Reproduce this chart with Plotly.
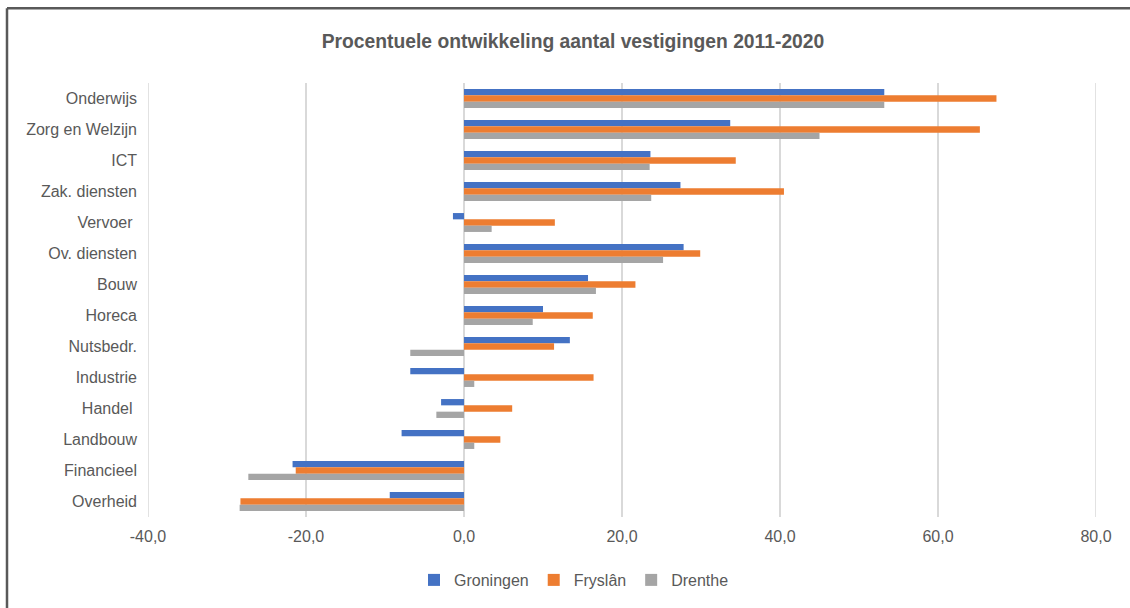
import plotly.graph_objects as go

categories = ["Onderwijs", "Zorg en Welzijn", "ICT", "Zak. diensten", "Vervoer\u00a0",
              "Ov. diensten", "Bouw", "Horeca", "Nutsbedr.", "Industrie", "Handel\u00a0",
              "Landbouw", "Financieel", "Overheid"]
groningen = [53.2, 33.7, 23.6, 27.4, -1.4, 27.8, 15.7, 10.0, 13.4, -6.8, -2.9, -7.9, -21.7, -9.4]
fryslan   = [67.4, 65.3, 34.4, 40.5, 11.5, 29.9, 21.7, 16.3, 11.4, 16.4, 6.1, 4.6, -21.3, -28.3]
drenthe   = [53.2, 45.0, 23.5, 23.7, 3.5, 25.2, 16.7, 8.7, -6.8, 1.3, -3.5, 1.3, -27.3, -28.4]
series_names = ["Groningen", "Fryslân", "Drenthe"]
series_colors = ["#4472C4", "#ED7D31", "#A5A5A5"]
tick_vals = [-40, -20, 0, 20, 40, 60, 80]
tick_text = [f"{v:.1f}".replace(".", ",") for v in tick_vals]
title_text = "Procentuele ontwikkeling aantal vestigingen 2011-2020"

FONT = "Liberation Sans, Arial, sans-serif"
TXT = "#595959"
GRID = "#D9D9D9"

fig = go.Figure()
for name, vals, col in zip(series_names, [groningen, fryslan, drenthe], series_colors):
    fig.add_trace(go.Bar(y=categories, x=vals, name=name, orientation="h",
                         marker=dict(color=col, line=dict(width=0))))

W, H = 1130, 608
L, R, T, B = 148, 34, 83, 90
pw, ph = W - L - R, H - T - B

def px(x):
    return (x - L) / pw

def py(y):
    return (H - B - y) / ph

fig.update_layout(
    width=W, height=H,
    margin=dict(l=L, r=R, t=T, b=B),
    paper_bgcolor="white", plot_bgcolor="white",
    barmode="group", bargap=0.39, bargroupgap=0,
    font=dict(family=FONT, color=TXT, size=16),
    title=dict(text="<b>" + title_text + "</b>", x=573 / W, xref="container",
               xanchor="center", y=1 - 41 / H, yref="container", yanchor="middle",
               font=dict(size=19.3, color=TXT, family=FONT)),
    legend=dict(orientation="h", x=px(574), xanchor="center", y=py(580), yanchor="middle",
                font=dict(size=16, color=TXT), itemwidth=30, traceorder="normal",
                bgcolor="rgba(0,0,0,0)"),
    xaxis=dict(range=[tick_vals[0], tick_vals[-1]], tickvals=tick_vals, ticktext=tick_text,
               showgrid=True, gridcolor=GRID, gridwidth=1.5,
               zeroline=True, zerolinecolor=GRID, zerolinewidth=1.5,
               showline=False, ticks="", ticklabelstandoff=8,
               tickfont=dict(size=16, color=TXT), fixedrange=True),
    yaxis=dict(autorange="reversed", showgrid=False, zeroline=False, showline=False,
               ticks="", ticklabelstandoff=10, tickfont=dict(size=16, color=TXT),
               type="category", fixedrange=True),
    showlegend=True,
)

# edge gridlines (plotly omits grid lines on the plot-area boundary)
for v in (tick_vals[0], tick_vals[-1]):
    fig.add_shape(type="line", xref="x", yref="paper", x0=v, x1=v, y0=0, y1=1,
                  layer="below", line=dict(color=GRID, width=1.5))

# chart border (top and left visible in the reference)
border_col = "#595959"
fig.add_shape(type="line", xref="paper", yref="paper", x0=px(7), x1=px(1140),
              y0=py(8), y1=py(8), line=dict(color=border_col, width=2.5))
fig.add_shape(type="line", xref="paper", yref="paper", x0=px(7), x1=px(7),
              y0=py(8), y1=py(620), line=dict(color=border_col, width=2.5))

fig.write_html("out.html", config={"displayModeBar": False},
               post_script="document.body.style.margin='0';")
